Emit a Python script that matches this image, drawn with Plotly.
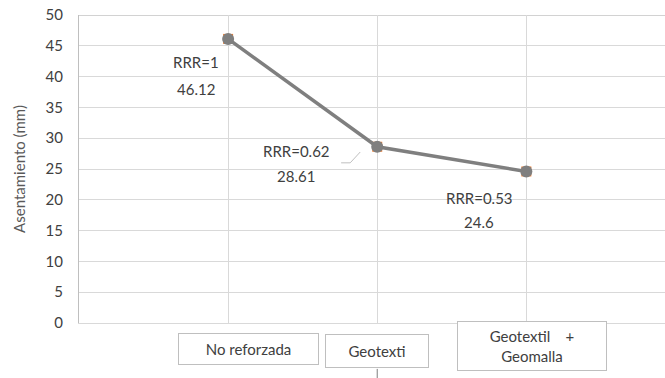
import plotly.graph_objects as go

categories = ["No reforzada", "Geotexti", "Geotextil    +<br>Geomalla"]
asentamiento = [46.12, 28.61, 24.6]
rrr = ["1", "0.62", "0.53"]
yticks = [0, 5, 10, 15, 20, 25, 30, 35, 40, 45, 50]

FONT = "Lato, Calibri, Carlito, sans-serif"
x_idx = list(range(len(categories)))

fig = go.Figure()
fig.add_trace(go.Scatter(
    x=x_idx, y=asentamiento, mode="markers",
    marker=dict(symbol="square", size=10, color="#ED7D31"),
    hoverinfo="skip", showlegend=False))
fig.add_trace(go.Scatter(
    x=x_idx, y=asentamiento, mode="lines+markers",
    line=dict(color="#7F7F7F", width=3.5),
    marker=dict(symbol="circle", size=12, color="#7F7F7F"),
    showlegend=False))

# data labels (two lines each, Excel-like spacing)
label_pos = [(-0.215, 42.3, 38.0), (0.456, 27.9, 23.9), (1.685, 20.3, 16.4)]
for (lx, y1, y2), r, v in zip(label_pos, rrr, asentamiento):
    fig.add_annotation(x=lx, y=y1, xref="x", yref="y", text=f"RRR={r}",
                       showarrow=False, font=dict(family=FONT, size=15, color="#404040"))
    fig.add_annotation(x=lx, y=y2, xref="x", yref="y", text=f"{v:g}",
                       showarrow=False, font=dict(family=FONT, size=15, color="#404040"))

# leader line for the second label
fig.add_shape(type="path", xref="x", yref="y",
              path="M 0.758 26.0 L 0.819 26.0 L 0.886 27.76",
              line=dict(color="#BFBFBF", width=1))

# category labels in bordered boxes
box_specs = [(0.14, -0.084, 137, 28), (1.0, -0.09, 100, 30), (2.04, -0.074, 146, 46)]
for (bx, by, w, h), c in zip(box_specs, categories):
    fig.add_annotation(x=bx, y=by, xref="x", yref="paper", text=c,
                       xanchor="center", yanchor="middle",
                       showarrow=False, width=w, height=h, align="center", valign="middle",
                       bordercolor="#BFBFBF", borderwidth=1, borderpad=1,
                       bgcolor="white",
                       font=dict(family=FONT, size=15, color="#404040"))
fig.add_shape(type="line", xref="x", yref="paper", x0=1.0, x1=1.0, y0=-0.149, y1=-0.2,
              line=dict(color="#7F7F7F", width=1))

# darker top line
fig.add_shape(type="line", xref="paper", yref="y", x0=0, x1=1, y0=50, y1=50,
              line=dict(color="#A6A6A6", width=1), layer="below")

fig.update_xaxes(range=[-1, 2.93], tickvals=x_idx, ticktext=["", "", ""],
                 showgrid=True, gridcolor="#D9D9D9", gridwidth=1, automargin=False,
                 showline=True, linecolor="#D9D9D9", zeroline=False, ticks="")
fig.update_yaxes(range=[0, 50], tickvals=yticks, showgrid=True, gridcolor="#D9D9D9",
                 gridwidth=1, showline=True, linecolor="#BFBFBF", zeroline=False,
                 ticks="", ticklabelstandoff=12, automargin=False,
                 tickfont=dict(family=FONT, size=15, color="#404040"),
                 title=dict(text="Asentamiento (mm)", standoff=16,
                            font=dict(family=FONT, size=15, color="#595959")))
fig.update_layout(width=665, height=378, margin=dict(l=79, r=0, t=15, b=55),
                  plot_bgcolor="white", paper_bgcolor="white")
fig.write_html("out.html", post_script="document.body.style.margin='0';",
               config={"displayModeBar": False})
